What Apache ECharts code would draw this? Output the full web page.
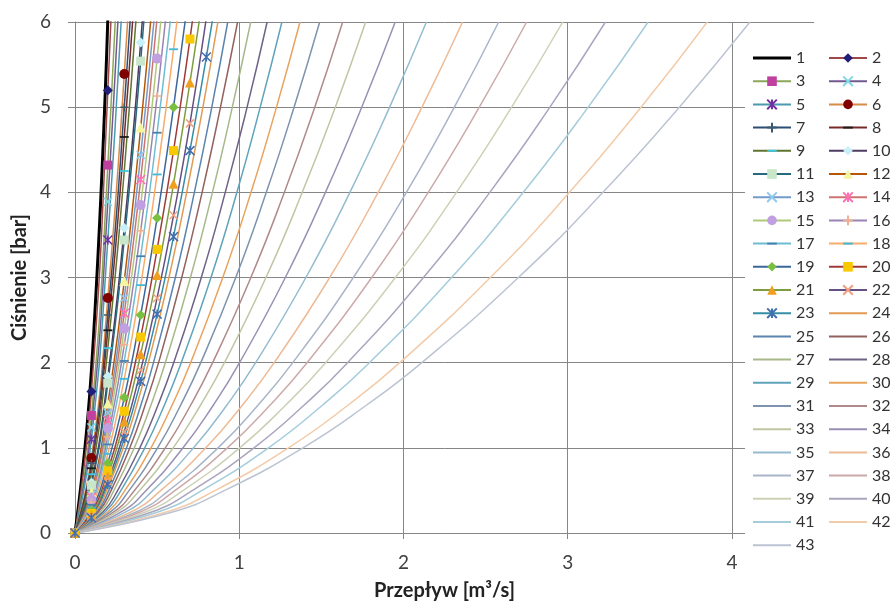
<!DOCTYPE html>
<html>
<head>
<meta charset="utf-8">
<script src="https://cdn.jsdelivr.net/npm/echarts@6/dist/echarts.min.js"></script>
<style>
  html, body { margin: 0; padding: 0; background: #fff; }
  #chart { width: 890px; height: 606px; }
</style>
</head>
<body>
<div id="chart"></div>
<script>
// series names as in the legend
var seriesNames = ['1','2','3','4','5','6','7','8','9','10','11','12','13','14','15','16','17','18','19','20','21','22',
                   '23','24','25','26','27','28','29','30','31','32','33','34','35','36','37','38','39','40','41','42','43'];

// series 1-23: pressure [bar] read at flow steps [m3/s]
var flowSteps = [0, 0.1, 0.2, 0.3, 0.4, 0.5, 0.6, 0.7, 0.8, 0.9];
var pressureByFlow = [
  [0, 1.91, 6.05],
  [0, 1.66, 5.20, 10.16],
  [0, 1.38, 4.32, 8.44],
  [0, 1.24, 3.89, 7.60],
  [0, 1.10, 3.44, 6.72],
  [0, 0.88, 2.76, 5.39, 8.67],
  [0, 0.82, 2.56, 5.00, 8.04],
  [0, 0.76, 2.38, 4.65, 7.48],
  [0, 0.69, 2.17, 4.25, 6.82],
  [0, 0.59, 1.84, 3.58, 5.76, 8.33],
  [0, 0.56, 1.76, 3.44, 5.54, 8.00],
  [0, 0.48, 1.52, 2.96, 4.76, 6.89],
  [0, 0.45, 1.41, 2.76, 4.44, 6.42],
  [0, 0.42, 1.32, 2.58, 4.15, 6.05],
  [0, 0.39, 1.23, 2.40, 3.85, 5.57, 7.52],
  [0, 0.36, 1.13, 2.21, 3.55, 5.13, 6.93],
  [0, 0.33, 1.04, 2.02, 3.25, 4.70, 6.35],
  [0, 0.30, 0.93, 1.81, 2.91, 4.21, 5.68, 7.33],
  [0, 0.26, 0.82, 1.59, 2.56, 3.70, 5.00, 6.45],
  [0, 0.23, 0.73, 1.43, 2.30, 3.33, 4.49, 5.80, 7.22],
  [0, 0.21, 0.67, 1.31, 2.10, 3.03, 4.10, 5.29, 6.59],
  [0, 0.19, 0.61, 1.19, 1.91, 2.76, 3.73, 4.81, 6.05],
  [0, 0.18, 0.57, 1.11, 1.78, 2.57, 3.48, 4.49, 5.59, 6.79]
];

// series 24-43: flow [m3/s] read at pressure levels [bar]
var pressureLevels = [0, 0.25, 0.5, 1, 1.5, 2, 3, 4, 5, 6];
var flowByPressure = [
  [0, 0.127, 0.193, 0.294, 0.376, 0.447, 0.572, 0.680, 0.779, 0.87],
  [0, 0.136, 0.206, 0.314, 0.401, 0.478, 0.611, 0.727, 0.833, 0.93],
  [0, 0.144, 0.220, 0.334, 0.427, 0.509, 0.650, 0.774, 0.886, 0.99],
  [0, 0.156, 0.237, 0.361, 0.462, 0.550, 0.703, 0.837, 0.958, 1.07],
  [0, 0.171, 0.260, 0.395, 0.505, 0.601, 0.769, 0.915, 1.048, 1.17],
  [0, 0.184, 0.280, 0.425, 0.544, 0.647, 0.828, 0.986, 1.128, 1.26],
  [0, 0.200, 0.304, 0.463, 0.591, 0.704, 0.900, 1.072, 1.227, 1.37],
  [0, 0.217, 0.330, 0.503, 0.643, 0.766, 0.979, 1.165, 1.334, 1.49],
  [0, 0.238, 0.362, 0.550, 0.704, 0.838, 1.071, 1.275, 1.460, 1.63],
  [0, 0.258, 0.393, 0.598, 0.764, 0.910, 1.163, 1.384, 1.585, 1.77],
  [0, 0.284, 0.433, 0.658, 0.842, 1.002, 1.281, 1.525, 1.746, 1.95],
  [0, 0.312, 0.475, 0.722, 0.924, 1.100, 1.406, 1.674, 1.916, 2.14],
  [0, 0.344, 0.523, 0.797, 1.019, 1.213, 1.551, 1.846, 2.113, 2.36],
  [0, 0.376, 0.572, 0.871, 1.114, 1.326, 1.695, 2.018, 2.310, 2.58],
  [0, 0.401, 0.610, 0.928, 1.187, 1.413, 1.807, 2.151, 2.462, 2.75],
  [0, 0.433, 0.659, 1.003, 1.282, 1.526, 1.951, 2.323, 2.659, 2.97],
  [0, 0.471, 0.716, 1.090, 1.394, 1.660, 2.122, 2.526, 2.892, 3.23],
  [0, 0.509, 0.774, 1.178, 1.506, 1.793, 2.293, 2.730, 3.125, 3.49],
  [0, 0.561, 0.854, 1.300, 1.662, 1.978, 2.529, 3.011, 3.447, 3.85],
  [0, 0.599, 0.912, 1.388, 1.774, 2.112, 2.700, 3.215, 3.680, 4.11]
];

// styles
var lineColors = ['#000000','#A04848','#8AA858','#705A90','#4A9AB0','#D88A48',
                  '#2C4D75','#772C2A','#5F7530','#4D3B62','#276A7C','#B65708',
                  '#729ACA','#CD7371','#AFC97A','#9983B5','#6FBDD1','#F9AB6B',
                  '#3A679C','#9F3B38','#7E9D40','#664F83','#358EA6',
                  '#E39A52','#5B84AE','#93615E','#A7B88A','#6F6287','#5FA3BA','#E8A35E',
                  '#7D93AE','#B08A8A','#BFC7A2','#9A90B5','#94BCD0','#EDBA96',
                  '#A9B5C8','#CDAAAA','#CCD1B5','#ABA5BE','#A5CCDB','#F2CBA9','#BCC4D3'];
var markerTypes = ['none','diamond','square','x','star','circle','plus','dash','dash',
                   'diamond','square','triangle','x','star','circle','plus','dash','dash',
                   'diamond','square','triangle','x','star'];
var markerColors = ['#000','#1F1F7A','#C040A0','#80D8E8','#7030A0','#800000','#3A5A70','#1A1A1A','#40C8E0',
                    '#C8F0F8','#C8E6C9','#F5F5A0','#90C8F0','#FF70B0','#C0A0E0','#F0B090','#4A80B0','#40B8D8',
                    '#78C040','#F8C800','#F0A020','#F0A080','#4070B0'];

var SYM = {
  diamond: { symbol: 'diamond', size: 10, stroke: false },
  square: { symbol: 'rect', size: 9, stroke: false },
  triangle: { symbol: 'triangle', size: 10, stroke: false },
  circle: { symbol: 'circle', size: 10, stroke: false },
  x: { symbol: 'path://M0,0L10,10M10,0L0,10', size: 8, stroke: true },
  star: { symbol: 'path://M0,0L10,10M10,0L0,10M5,0L5,10', size: 9, stroke: true },
  plus: { symbol: 'path://M5,0L5,10M0,5L10,5', size: 8, stroke: true },
  dash: { symbol: 'path://M0,0M10,10M0,4L10,4L10,6L0,6Z', size: 9, stroke: false }
};

var FONT = 'Lato, "Open Sans", sans-serif';
var series = [];
var legendItems = [];

pressureByFlow.forEach(function (ps, i) {
  var mt = markerTypes[i];
  var s = {
    name: seriesNames[i],
    type: 'line',
    smooth: true,
    data: ps.map(function (p, j) { return [flowSteps[j], p]; }),
    lineStyle: { color: lineColors[i], width: i === 0 ? 3 : 1.5 }
  };
  var item = { name: seriesNames[i] };
  if (mt === 'none') {
    s.symbol = 'none';
    s.itemStyle = { color: lineColors[i] };
    item.icon = 'path://M0,0L38,0L38,3L0,3Z';
  } else {
    var d = SYM[mt];
    s.symbol = d.symbol;
    s.symbolSize = d.size;
    s.showAllSymbol = true;
    s.itemStyle = d.stroke
      ? { color: markerColors[i], borderColor: markerColors[i], borderWidth: 1.5 }
      : { color: markerColors[i], borderWidth: 0 };
  }
  series.push(s);
  legendItems.push(item);
});

flowByPressure.forEach(function (qs, k) {
  var i = pressureByFlow.length + k;
  series.push({
    name: seriesNames[i],
    type: 'line',
    smooth: true,
    symbol: 'none',
    data: qs.map(function (q, j) { return [q, pressureLevels[j]]; }),
    lineStyle: { color: lineColors[i], width: 1.5 },
    itemStyle: { color: lineColors[i] }
  });
  legendItems.push({ name: seriesNames[i], icon: 'path://M0,0L38,0L38,2L0,2Z' });
});

var legendCommon = {
  orient: 'vertical',
  itemWidth: 38,
  itemHeight: 12,
  itemGap: 7.2,
  selectedMode: false,
  textStyle: { fontFamily: FONT, fontSize: 16, color: '#333' }
};

var chart = echarts.init(document.getElementById('chart'));
chart.setOption({
  animation: false,
  backgroundColor: '#fff',
  textStyle: { fontFamily: FONT },
  grid: { left: 75, right: 76, top: 22, bottom: 73, outerBoundsMode: 'none' },
  legend: [
    Object.assign({}, legendCommon, {
      data: legendItems.filter(function (d, i) { return i % 2 === 0; }),
      left: 745, top: 44,
      padding: [6, 90, 12, 7],
      backgroundColor: '#fff'
    }),
    Object.assign({}, legendCommon, {
      data: legendItems.filter(function (d, i) { return i % 2 === 1; }),
      left: 828, top: 50,
      padding: 0
    })
  ],
  xAxis: {
    type: 'value', min: 0, max: 4.5, interval: 1,
    name: 'Przepływ [m³/s]', nameLocation: 'middle', nameGap: 48,
    nameTextStyle: { fontFamily: FONT, fontSize: 20, fontWeight: 'bold', color: '#222' },
    axisLine: { show: true, lineStyle: { color: '#868686' } },
    axisTick: { show: true, length: 6, lineStyle: { color: '#868686' } },
    axisLabel: { fontSize: 19, color: '#404040', margin: 20, showMaxLabel: false },
    splitLine: { show: true, showMaxLine: false, lineStyle: { color: '#868686' } }
  },
  yAxis: {
    type: 'value', min: 0, max: 6, interval: 1,
    name: 'Ciśnienie [bar]', nameLocation: 'middle', nameGap: 40,
    nameTextStyle: { fontFamily: FONT, fontSize: 20, fontWeight: 'bold', color: '#222' },
    axisLine: { show: true, lineStyle: { color: '#868686' } },
    axisTick: { show: true, length: 7, lineStyle: { color: '#868686' } },
    axisLabel: { fontSize: 19, color: '#404040', margin: 24 },
    splitLine: { show: true, lineStyle: { color: '#868686' } }
  },
  series: series
});
</script>
</body>
</html>
